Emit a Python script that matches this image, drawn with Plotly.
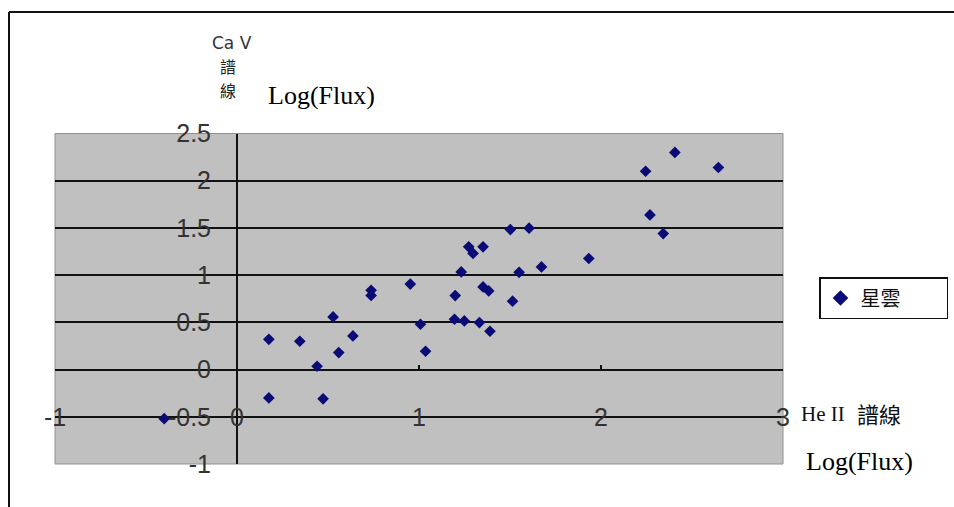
import plotly.graph_objects as go

# ---- data ----
he2_log_flux = [-0.40, 0.175, 0.175, 0.345, 0.44, 0.473, 0.528, 0.559, 0.637, 0.737, 0.737,
                0.952, 1.008, 1.036, 1.195, 1.199, 1.232, 1.249, 1.273, 1.297, 1.332, 1.352,
                1.352, 1.383, 1.39, 1.502, 1.514, 1.55, 1.605, 1.673, 1.933, 2.245, 2.269,
                2.342, 2.406, 2.645]
ca5_log_flux = [-0.52, 0.32, -0.30, 0.30, 0.035, -0.31, 0.557, 0.18, 0.356, 0.84, 0.785,
                0.905, 0.48, 0.194, 0.533, 0.784, 1.034, 0.515, 1.30, 1.23, 0.498, 1.30,
                0.875, 0.833, 0.406, 1.483, 0.724, 1.03, 1.497, 1.087, 1.176, 2.10, 1.638,
                1.44, 2.30, 2.14]
series_name = "星雲"
x_ticks = [-1, 0, 1, 2, 3]
y_ticks = [-1, -0.5, 0, 0.5, 1, 1.5, 2, 2.5]
y_grid = [-0.5, 0, 0.5, 1, 1.5, 2]
x_range = [-1, 3]
y_range = [-1, 2.5]
x_label_row = -0.5   # the tick labels of the x axis sit on this y value

W, H = 954, 507
px = lambda v: v / W
py = lambda v: 1 - v / H

dom_x = [px(55), px(783)]
dom_y = [py(464), py(133.5)]

fig = go.Figure()
# invisible helper trace so that the gridline-only overlay axis is drawn
fig.add_trace(go.Scatter(x=[None], y=[None], xaxis="x", yaxis="y2", showlegend=False,
                         hoverinfo="skip", mode="markers"))
fig.add_trace(go.Scatter(
    x=he2_log_flux, y=ca5_log_flux, mode="markers",
    name=series_name + "\u00a0" * 9,
    marker=dict(symbol="diamond", size=9, color="#0b0b78", line=dict(width=0)),
    xaxis="x", yaxis="y",
))

tick_font = dict(family="Liberation Sans", size=25, color="#333333")

fig.update_layout(
    width=W, height=H,
    margin=dict(l=0, r=0, t=0, b=0, autoexpand=False),
    paper_bgcolor="white",
    plot_bgcolor="#c0c0c0",
    showlegend=True,
    legend=dict(x=px(819), y=py(277), xanchor="left", yanchor="top",
                bordercolor="#111111", borderwidth=1.5, bgcolor="white",
                font=dict(family="Noto Sans CJK TC", size=20, color="#111111"),
                itemsizing="constant"),
    xaxis=dict(domain=dom_x, range=x_range, anchor="free",
               position=dom_y[0] + (0 - y_range[0]) / (y_range[1] - y_range[0]) * (dom_y[1] - dom_y[0]),
               tickvals=x_ticks, showticklabels=False, ticks="inside", ticklen=5,
               tickwidth=1.5, tickcolor="#111111", showgrid=False, zeroline=False,
               showline=False, fixedrange=True, automargin=False),
    yaxis=dict(domain=dom_y, range=y_range, anchor="free",
               position=dom_x[0] + (0 - x_range[0]) / (x_range[1] - x_range[0]) * (dom_x[1] - dom_x[0]),
               tickvals=y_ticks, ticktext=[("%g" % v) for v in y_ticks],
               tickfont=tick_font, ticks="inside", ticklen=5, tickwidth=1.5,
               tickcolor="#111111", showline=True, linecolor="#111111", linewidth=2,
               showgrid=False, zeroline=False, ticklabelstandoff=20, fixedrange=True,
               automargin=False),
    yaxis2=dict(domain=dom_y, range=y_range, overlaying="y", anchor="x",
                tickvals=y_grid, showticklabels=False, ticks="", showgrid=True,
                gridcolor="#111111", gridwidth=2, zeroline=False, showline=False,
                fixedrange=True, automargin=False),
)

annotations = []
# x tick labels, centred on the line at y = -0.5
for v in x_ticks:
    annotations.append(dict(x=v, y=x_label_row, xref="x", yref="y", text="%g" % v,
                            showarrow=False, xanchor="center", yanchor="middle",
                            font=tick_font))


def note(text, x, y, font, xanchor="center"):
    return dict(x=px(x), y=py(y), xref="paper", yref="paper", text=text, showarrow=False,
                xanchor=xanchor, yanchor="middle", borderpad=0, font=font)


cjk = "Noto Sans CJK TC"
annotations += [
    note("Ca V", 232, 43, dict(family="DejaVu Sans", size=17, color="#333333")),
    note("譜", 228, 66, dict(family=cjk, size=16, color="#222222")),
    note("線", 228, 90, dict(family=cjk, size=16, color="#222222")),
    note("Log(Flux)", 267, 95, dict(family="Liberation Serif", size=26, color="#000000"),
         xanchor="left"),
    note("He II", 800, 414, dict(family="Liberation Serif", size=21, color="#111111"),
         xanchor="left"),
    note("譜線", 856, 413, dict(family=cjk, size=22, color="#111111"), xanchor="left"),
    note("Log(Flux)", 805, 461, dict(family="Liberation Serif", size=26, color="#000000"),
         xanchor="left"),
]
fig.update_layout(annotations=annotations)

# outer frame (top and left edges) and the plot-area border
fig.add_shape(type="line", xref="paper", yref="paper", x0=px(9), x1=1, y0=py(12), y1=py(12),
              line=dict(color="#111111", width=2))
fig.add_shape(type="line", xref="paper", yref="paper", x0=px(9), x1=px(9), y0=0, y1=py(12),
              line=dict(color="#111111", width=2))
fig.add_shape(type="rect", xref="x domain", yref="y domain", x0=0, x1=1, y0=0, y1=1,
              line=dict(color="#909090", width=1), layer="below")

fig.write_html("out.html")
